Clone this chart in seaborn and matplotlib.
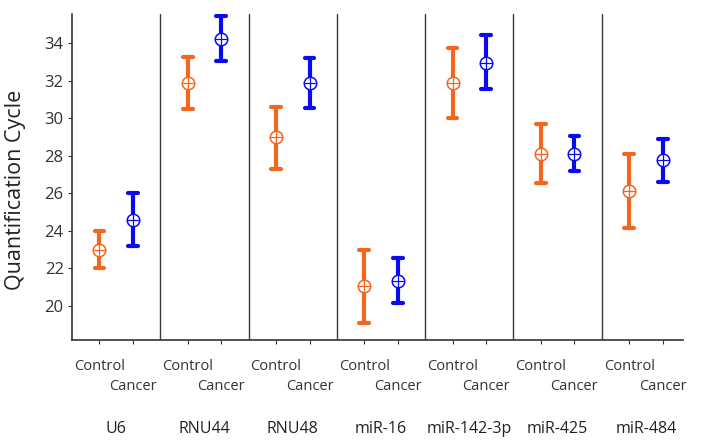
import pandas as pd
import seaborn as sns
import matplotlib.pyplot as plt

# Values (mean with lower/upper ends of the bars)
genes = ["U6", "RNU44", "RNU48", "miR-16", "miR-142-3p", "miR-425", "miR-484"]
groups = ["Control", "Cancer"]

control_mean = [23.0, 31.87, 28.99, 21.07, 31.87, 28.1, 26.12]
control_low = [22.0, 30.48, 27.28, 19.1, 30.0, 26.57, 24.15]
control_high = [24.0, 33.25, 30.62, 22.98, 33.77, 29.68, 28.1]

cancer_mean = [24.58, 34.23, 31.87, 21.32, 32.93, 28.1, 27.78]
cancer_low = [23.2, 33.07, 30.57, 20.17, 31.55, 27.19, 26.62]
cancer_high = [26.0, 35.47, 33.2, 22.57, 34.44, 29.06, 28.88]

yticks = [20, 22, 24, 26, 28, 30, 32, 34]

palette = {"Control": "#F2661E", "Cancer": "#0A0AF0"}


# Long table: low / mean / high per point, median gives the mean and the
# 100 % percentile interval gives the bar ends
rows = []
for name, mean, low, high in [("Control", control_mean, control_low, control_high),
                              ("Cancer", cancer_mean, cancer_low, cancer_high)]:
    for g, m, lo, hi in zip(genes, mean, low, high):
        for v in (lo, m, hi):
            rows.append({"gene": g, "group": name, "Cq": v})
df = pd.DataFrame(rows)

sns.set_style("ticks")
plt.rcParams["font.family"] = ["Open Sans", "DejaVu Sans"]

fig = plt.figure(figsize=(7.03, 4.46), dpi=100)
ax = fig.add_axes([0.1024, 0.2377, 0.8692, 0.7309])

# error bars plus white-filled circles
sns.pointplot(data=df, x="gene", y="Cq", hue="group", order=genes, hue_order=groups,
              palette=palette, estimator="median", errorbar=("pi", 100),
              dodge=0.38, linestyle="none", markers="o", markersize=9,
              markerfacecolor="white", markeredgewidth=1.1, capsize=0.11,
              err_kws={"linewidth": 3, "zorder": 2}, zorder=3, legend=False, ax=ax)

# crosshair inside the circles
sns.pointplot(data=df, x="gene", y="Cq", hue="group", order=genes, hue_order=groups,
              palette=palette, estimator="median", errorbar=None,
              dodge=0.38, linestyle="none", markers="+", markersize=9,
              markeredgewidth=0.9, zorder=4, legend=False, ax=ax)

# separators between genes
for i in range(len(genes) - 1):
    ax.axvline(i + 0.5, color="#3a3a3a", linewidth=1)

ax.set_ylim(18.18, 35.56)
ax.set_xlim(-0.5, 6.42)
ax.set_yticks(yticks)
ax.set_yticklabels([str(t) for t in yticks], fontsize=12, color="#333333")

# tick marks at every point, "Control" under the orange ones
ctrl_pos = [i - 0.19 for i in range(len(genes))]
canc_pos = [i + 0.19 for i in range(len(genes))]
pos = sorted(ctrl_pos + canc_pos)
labels = ["Control" if p in ctrl_pos else "" for p in pos]
ax.set_xticks(pos, labels=labels)
ax.set_xticks(range(len(genes)), labels=genes, minor=True)
ax.tick_params(axis="x", which="major", length=3, pad=11, labelsize=10.5,
               colors="#333333")
ax.tick_params(axis="x", which="minor", length=0, pad=58, labelsize=11.5,
               labelcolor="#222222")
ax.tick_params(axis="y", length=3, pad=3, colors="#333333")

# "Cancer" one row lower
sec = ax.secondary_xaxis("bottom")
sec.set_xticks(canc_pos, labels=["Cancer"] * len(genes))
sec.tick_params(axis="x", length=0, pad=28, labelsize=10.5, labelcolor="#333333")
sec.spines["bottom"].set_visible(False)

ax.set_xlabel("")
ax.set_ylabel("Quantification Cycle", fontsize=15.5, color="#222222")
ax.yaxis.set_label_coords(-0.075, 0.46)

sns.despine(ax=ax)
for side in ("left", "bottom"):
    ax.spines[side].set_color("#333333")
    ax.spines[side].set_linewidth(1.2)

fig.savefig("out.png", dpi=100)
plt.close(fig)
